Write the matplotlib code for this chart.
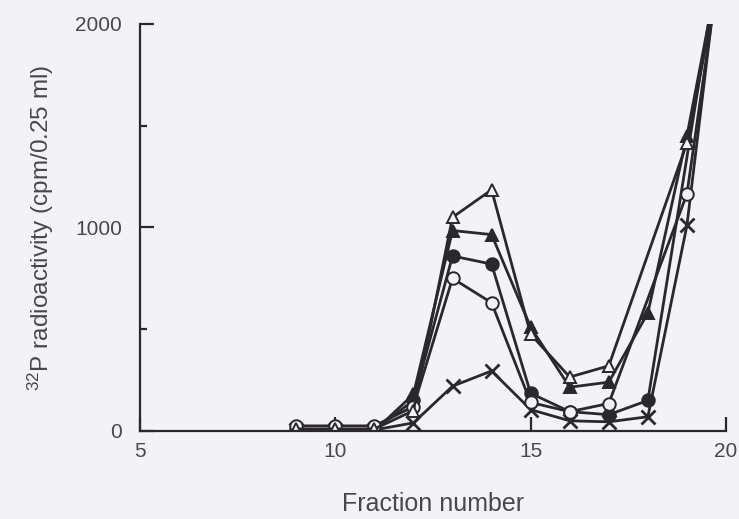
import matplotlib
matplotlib.use('Agg')
import matplotlib.pyplot as plt

plt.rcParams['font.family'] = ['Liberation Sans', 'DejaVu Sans']
plt.rcParams['mathtext.fontset'] = 'custom'
plt.rcParams['mathtext.rm'] = 'Liberation Sans'

# 32P counts per fraction for the five runs
x_open_tri = [9, 10, 11, 12, 13, 14, 15, 16, 17, 19, 20]
y_open_tri = [10, 10, 10, 100, 1050, 1185, 475, 265, 320, 1415, 2400]

x_fill_tri = [9, 10, 11, 12, 13, 14, 15, 16, 17, 18, 19, 20]
y_fill_tri = [0, 0, 0, 180, 985, 965, 510, 215, 240, 580, 1450, 2450]

x_fill_circ = [9, 10, 11, 12, 13, 14, 15, 16, 17, 18, 20]
y_fill_circ = [5, 5, 5, 150, 860, 820, 185, 95, 80, 150, 2540]

x_open_circ = [9, 10, 11, 12, 13, 14, 15, 16, 17, 19, 20]
y_open_circ = [25, 25, 25, 120, 750, 630, 140, 95, 135, 1165, 2510]

x_cross = [9, 10, 11, 12, 13, 14, 15, 16, 17, 18, 19, 20]
y_cross = [5, 5, 5, 40, 220, 295, 105, 50, 45, 70, 1010, 2600]

bg = '#f3f2f4'
ink = '#2b282c'
txt = '#4a474b'

fig = plt.figure(figsize=(7.39, 5.19), dpi=100, facecolor=bg)
ax = fig.add_axes([0.1894, 0.1696, 0.7930, 0.7842], facecolor=bg)

kw = dict(color=ink, lw=2.0, ms=9, mew=1.4)
ax.plot(x_fill_tri, y_fill_tri, marker='^', mfc=ink, **kw)
ax.plot(x_fill_circ, y_fill_circ, marker='o', mfc=ink, **kw)
ax.plot(x_cross, y_cross, marker='x', ms=9.5, color=ink, lw=2.0, mew=2.0)
ax.plot(x_open_circ, y_open_circ, marker='o', mfc=bg, mec=ink, **kw)
ax.plot(x_open_tri, y_open_tri, marker='^', mfc=bg, mec=ink, **kw)

ax.set_xlim(5, 20)
ax.set_ylim(0, 2000)
ax.set_xticks([5, 10, 15, 20])
ax.set_yticks([0, 1000, 2000])
ax.set_yticks([500, 1500], minor=True)

for side in ['top', 'right']:
    ax.spines[side].set_visible(False)
for side in ['left', 'bottom']:
    ax.spines[side].set_color(ink)
    ax.spines[side].set_linewidth(1.6)

ax.tick_params(axis='both', which='major', direction='in', length=10, width=1.6,
               color=ink, labelcolor=txt, labelsize=15)
ax.tick_params(axis='y', which='minor', direction='in', length=5, width=1.6, color=ink)
ax.tick_params(axis='y', which='major', pad=13)
ax.tick_params(axis='x', which='major', pad=8)

ax.set_xlabel('Fraction number', fontsize=18, color=txt, labelpad=22)
ax.set_ylabel(r'$\mathregular{^{32}}$P radioactivity (cpm/0.25 ml)', fontsize=17.5,
              color=txt, labelpad=14)

plt.savefig('out.png', dpi=100, facecolor=bg)
